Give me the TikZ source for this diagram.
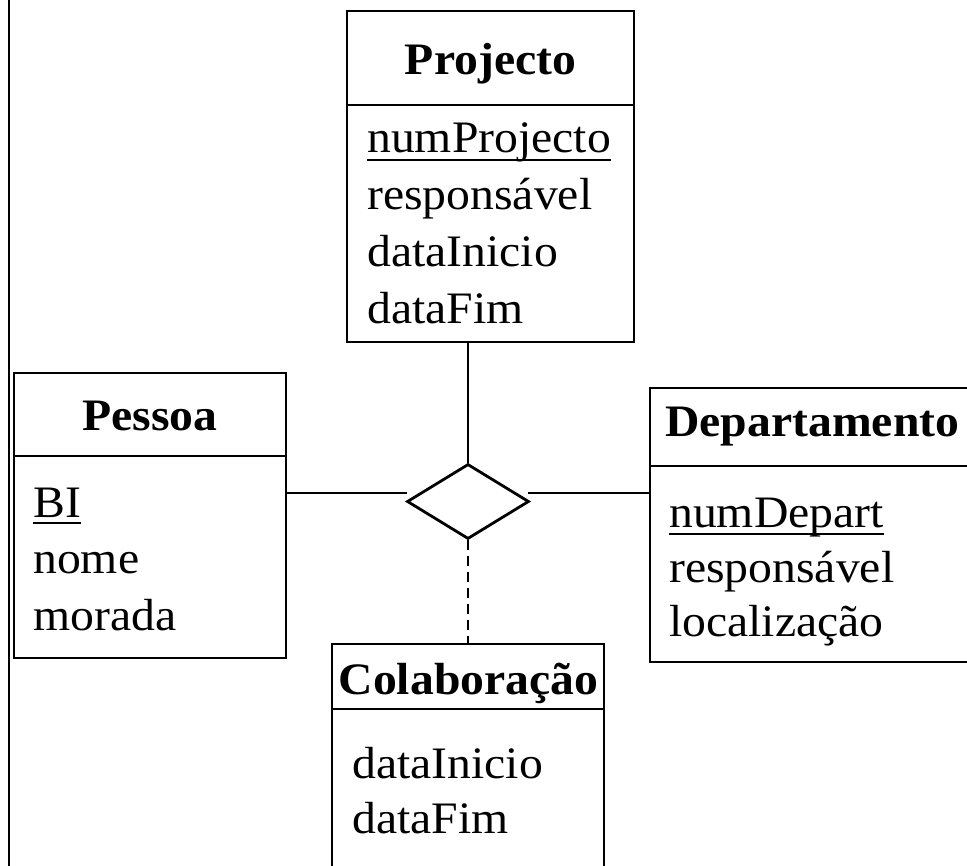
\documentclass[tikz,border=0pt]{standalone}
\usepackage{fontspec}
\setmainfont{Liberation Serif}[FakeStretch=1.06]
\usetikzlibrary{shapes.geometric}

\tikzset{
  ink/.style={line width=2.8pt, draw=black},
  entbox/.style={ink, rectangle, inner sep=0pt, fill=none},
  reln/.style={ink, diamond, inner sep=0pt, aspect=1.63},
  headtxt/.style={font=\fontsize{45}{54}\selectfont\bfseries, inner sep=0pt, anchor=base},
  attrtxt/.style={font=\fontsize{45}{54}\selectfont, inner sep=0pt, anchor=base west},
  keyline/.style={line width=2.4pt},
  link/.style={ink},
  weaklink/.style={ink, dash pattern=on 10pt off 6pt}
}

\begin{document}
\begin{tikzpicture}[x=1pt, y=-1pt]
  \useasboundingbox (0,0) rectangle (967,866);
  \clip (0,0) rectangle (967,866);

  % frame line on the left
  \coordinate (ftop) at (9,-10);
  \coordinate (fbot) at (9,880);
  \draw[ink] (ftop) -- (fbot);

  % entity boxes
  \node[entbox, minimum width=287pt, minimum height=331pt] (projecto) at (490.5,176.5) {};
  \node[entbox, minimum width=272pt, minimum height=285pt] (pessoa) at (150,515.5) {};
  \node[entbox, minimum width=335pt, minimum height=274pt] (depto) at (817.5,525) {};
  \node[entbox, minimum width=272pt, minimum height=246pt] (colab) at (468,767) {};

  % header separators
  \coordinate (sepP) at (0,105);
  \coordinate (sepPe) at (0,456);
  \coordinate (sepD) at (0,466);
  \coordinate (sepC) at (0,709);
  \draw[ink] (projecto.west |- sepP) -- (projecto.east |- sepP);
  \draw[ink] (pessoa.west |- sepPe) -- (pessoa.east |- sepPe);
  \draw[ink] (depto.west |- sepD) -- (depto.east |- sepD);
  \draw[ink] (colab.west |- sepC) -- (colab.east |- sepC);

  % Projecto
  \node[headtxt] (hProj) at (490.5,75) {Projecto};
  \node[attrtxt] (pk1) at (367,153) {numProjecto};
  \node[attrtxt] (pa2) at (367,210) {responsável};
  \node[attrtxt] (pa3) at (367,267) {dataInicio};
  \node[attrtxt] (pa4) at (367,324) {dataFim};
  \draw[keyline] ([yshift=-7pt]pk1.base west) -- ([yshift=-7pt]pk1.base east);

  % Pessoa
  \node[headtxt] (hPes) at (150,431) {Pessoa};
  \node[attrtxt] (ek1) at (33,517) {BI};
  \node[attrtxt] (ea2) at (33,573) {nome};
  \node[attrtxt] (ea3) at (33,630) {morada};
  \draw[keyline] ([yshift=-6pt]ek1.base west) -- ([yshift=-6pt]ek1.base east);

  % Departamento
  \node[headtxt, anchor=base west] (hDep) at (665,437) {Departamento};
  \node[attrtxt] (dk1) at (669,527) {numDepart};
  \node[attrtxt] (da2) at (669,582) {responsável};
  \node[attrtxt] (da3) at (669,636) {localização};
  \draw[keyline] ([yshift=-7pt]dk1.base west) -- ([yshift=-7pt]dk1.base east);

  % Colaboração
  \node[headtxt] (hCol) at (468.5,694) {Colaboração};
  \node[attrtxt] (ca1) at (352,778) {dataInicio};
  \node[attrtxt] (ca2) at (352,833) {dataFim};

  % relationship
  \node[reln, minimum width=122pt, minimum height=75pt] (rel) at (468,501.5) {};
  \coordinate (rl) at (407,493);
  \coordinate (rr) at (528,493);

  % connectors
  \draw[link] (rel.north |- projecto.south) -- (rel.north);
  \draw[link] (pessoa.east |- rl) -- (rl);
  \draw[link] (rr) -- (depto.west |- rr);
  \draw[weaklink] (rel.south) -- (colab.north);
\end{tikzpicture}
\end{document}
